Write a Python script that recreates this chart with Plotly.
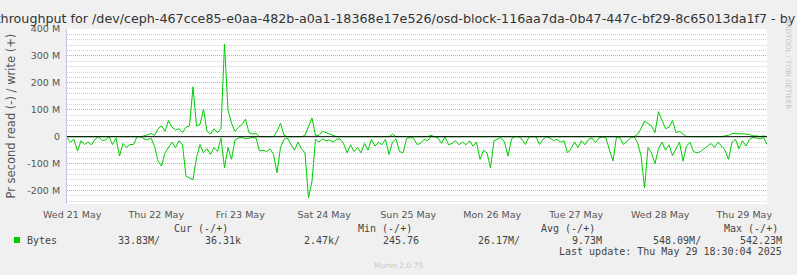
import pandas as pd
import plotly.graph_objects as go

# ---- data (MB/s), hourly samples from 2025-05-21 10:30 to 2025-05-29 18:30 ----
start = "2025-05-21 10:30"
read_mb = [
    5, 20, 10, 53, 15, 29, 20, 30, 10, 0,
    14, 12, 0, 29, 5, 72, 25, 40, 29, 29,
    0, 0, 8, 12, 5, 35, 90, 109, 60, 40,
    20, 41, 15, 30, 147, 153, 159, 78, 29, 60,
    45, 66, 40, 55, 5, 116, 40, 84, 12, 5,
    3, 8, 5, 3, 5, 53, 50, 55, 45, 65,
    134, 40, 10, 5, 30, 50, 20, 45, 60, 227,
    165, 10, 20, 8, 15, 12, 20, 10, 8, 25,
    60, 30, 55, 40, 60, 25, 50, 10, 35, 20,
    30, 10, 66, 20, 8, 55, 60, 8, 3, 5,
    29, 25, 10, 15, 0, 0, 5, 25, 0, 30,
    25, 15, 30, 20, 30, 15, 35, 20, 84, 50,
    60, 116, 15, 10, 3, 20, 72, 8, 0, 0,
    10, 29, 0, 0, 0, 29, 10, 0, 5, 15,
    10, 20, 15, 60, 45, 20, 40, 15, 30, 10,
    5, 22, 5, 0, 5, 50, 90, 0, 5, 29,
    15, 5, 0, 22, 70, 190, 40, 60, 100, 45,
    20, 50, 30, 70, 45, 20, 91, 35, 20, 55,
    60, 55, 45, 35, 25, 40, 20, 35, 50, 84,
    20, 10, 45, 15, 35, 10, 3, 5, 8, 3,
    29,
]
write_mb = [
    0, 0, 0, 0, 0, 0, 0, 0, 0, 0,
    0, 0, 0, 0, 0, 0, 0, 0, 0, 0,
    0, 0, 3, 8, 12, 5, 30, 40, 20, 60,
    35, 25, 30, 15, 35, 40, 185, 40, 45, 102,
    20, 10, 30, 15, 30, 344, 100, 50, 20, 35,
    45, 65, 15, 10, 12, 0, 0, 0, 0, 0,
    20, 50, 5, 0, 0, 0, 0, 0, 5, 40,
    70, 5, 5, 20, 15, 8, 3, 0, 0, 0,
    0, 0, 0, 0, 0, 0, 0, 0, 0, 0,
    0, 0, 0, 10, 0, 0, 0, 0, 0, 0,
    0, 0, 0, 0, 5, 0, 0, 0, 0, 0,
    0, 0, 0, 0, 0, 0, 0, 0, 0, 0,
    0, 0, 0, 0, 0, 0, 0, 0, 0, 0,
    0, 0, 0, 0, 0, 0, 0, 0, 0, 0,
    0, 0, 0, 0, 0, 0, 0, 0, 0, 0,
    0, 0, 0, 0, 0, 0, 0, 0, 0, 0,
    0, 0, 0, 8, 30, 58, 50, 40, 15, 93,
    60, 30, 35, 60, 15, 20, 10, 0, 0, 0,
    0, 0, 0, 0, 0, 0, 0, 0, 3, 5,
    12, 12, 10, 12, 10, 8, 3, 3, 0, 3,
    0,
]
y_tickvals = [-200, -100, 0, 100, 200, 300, 400]
y_ticktext = ["-200 M", "-100 M", "0", "100 M", "200 M", "300 M", "400 M"]
day_labels = ["Wed 21 May", "Thu 22 May", "Fri 23 May", "Sat 24 May", "Sun 25 May",
              "Mon 26 May", "Tue 27 May", "Wed 28 May", "Thu 29 May"]
legend_headers = ["Cur (-/+)", "Min (-/+)", "Avg (-/+)", "Max (-/+)"]
legend_values = ["33.83M/", "36.31k", "2.47k/", "245.76", "26.17M/", "9.73M", "548.09M/", "542.23M"]

times = pd.date_range(start, periods=len(read_mb), freq="h")
t0, t1 = times[0], times[-1]
noons = pd.date_range("2025-05-21 12:00", periods=len(day_labels), freq="D")

GREEN = "#00cc00"
PINK = "#e5a0a0"
GREY = "#d2d2d2"
TXT = "#555555"

# plot area in pixels
L, R, T, B = 67, 767, 29, 204
W, H = 797, 275


def pxx(x):
    return (x - L) / (R - L)


def pxy(y):
    return (B - y) / (B - T)


fig = go.Figure()
fig.add_trace(go.Scatter(x=times, y=[-v for v in read_mb], mode="lines",
                         line=dict(color=GREEN, width=1), xaxis="x2", yaxis="y",
                         showlegend=False, hoverinfo="skip"))
fig.add_trace(go.Scatter(x=times, y=write_mb, mode="lines",
                         line=dict(color=GREEN, width=1), xaxis="x2", yaxis="y",
                         showlegend=False, hoverinfo="skip"))

mono = "DejaVu Sans Mono"
ann = []
# y axis title
ann.append(dict(x=pxx(10.5), y=pxy(116), xref="paper", yref="paper", text="Pr second read (-) / write (+)",
                textangle=-90, showarrow=False, font=dict(family="DejaVu Sans", size=11.5, color=TXT),
                xanchor="center", yanchor="middle"))
# rrdtool watermark
ann.append(dict(x=pxx(788), y=pxy(64), xref="paper", yref="paper", text="RRDTOOL / TOBI OETIKER",
                textangle=90, showarrow=False, font=dict(family="DejaVu Sans", size=7, color="#c4c4c4"),
                xanchor="center", yanchor="middle"))
# legend headers
for txt, xl in zip(legend_headers, [173, 357, 540, 723]):
    ann.append(dict(x=pxx(xl), y=pxy(228), xref="paper", yref="paper", text=txt, showarrow=False,
                    font=dict(family=mono, size=10, color="#444444"), xanchor="left", yanchor="middle",
                    borderpad=0))
ann.append(dict(x=pxx(26), y=pxy(240), xref="paper", yref="paper", text="Bytes", showarrow=False,
                font=dict(family=mono, size=10, color="#444444"), xanchor="left", yanchor="middle", borderpad=0))
for txt, xr in zip(legend_values, [161, 242, 341, 420, 521, 603, 702, 783]):
    ann.append(dict(x=pxx(xr), y=pxy(240), xref="paper", yref="paper", text=txt, showarrow=False,
                    font=dict(family=mono, size=10, color="#444444"), xanchor="right", yanchor="middle",
                    borderpad=0))
ann.append(dict(x=pxx(783), y=pxy(251), xref="paper", yref="paper",
                text="Last update: Thu May 29 18:30:04 2025", showarrow=False,
                font=dict(family=mono, size=10, color="#444444"), xanchor="right", yanchor="middle", borderpad=0))
ann.append(dict(x=pxx(398), y=pxy(265), xref="paper", yref="paper", text="Munin 2.0.75", showarrow=False,
                font=dict(family="DejaVu Sans", size=7.5, color="#c8c8c8"), xanchor="center", yanchor="middle"))

shapes = [
    dict(type="line", xref="paper", yref="y", x0=0, x1=1, y0=0, y1=0,
         line=dict(color="black", width=1), layer="above"),
    dict(type="rect", xref="paper", yref="paper", x0=pxx(14), x1=pxx(20), y0=pxy(243), y1=pxy(237),
         fillcolor=GREEN, line=dict(width=0)),
]

fig.update_layout(
    width=W, height=H, autosize=False,
    margin=dict(l=L, r=W - R, t=T, b=H - B, pad=0),
    paper_bgcolor="#f0f0f0", plot_bgcolor="#ffffff",
    title=dict(text="Disk throughput for /dev/ceph-467cce85-e0aa-482b-a0a1-18368e17e526/osd-block-116aa7da-0b47-447c-bf29-8c65013da1f7 - by week",
               x=0.5, xref="container", xanchor="center", y=1 - 18.5 / H, yanchor="middle",
               font=dict(family="DejaVu Sans", size=12.7, color="#333333")),
    xaxis=dict(type="date", range=[t0, t1], tickmode="linear", tick0="2025-05-22", dtick=86400000,
               showticklabels=False, ticks="", showgrid=True, gridcolor=PINK, griddash="1px,1px", gridwidth=1,
               minor=dict(dtick=6 * 3600000, tick0="2025-05-21", showgrid=True, gridcolor=GREY,
                          griddash="1px,1px", gridwidth=1),
               showline=True, linecolor="#c4c4ec", linewidth=1, zeroline=False, fixedrange=True),
    xaxis2=dict(type="date", overlaying="x", matches="x", range=[t0, t1], tickmode="array",
                tickvals=noons, ticktext=day_labels, showgrid=False, ticks="", side="bottom", anchor="y",
                tickfont=dict(family="DejaVu Sans", size=9.5, color=TXT), ticklabelstandoff=3,
                showline=False, zeroline=False),
    yaxis=dict(range=[-250, 400], tickmode="array", tickvals=y_tickvals, ticktext=y_ticktext,
               showgrid=True, gridcolor=PINK, griddash="1px,1px", gridwidth=1,
               minor=dict(dtick=20, tick0=0, showgrid=True, gridcolor=GREY, griddash="1px,1px", gridwidth=1),
               ticks="", tickfont=dict(family="DejaVu Sans", size=9.5, color=TXT), ticklabelstandoff=4,
               showline=True, linecolor="#c4c4ec", linewidth=1, zeroline=False, fixedrange=True),
    annotations=ann, shapes=shapes, showlegend=False,
)
fig.write_html("out.html")
